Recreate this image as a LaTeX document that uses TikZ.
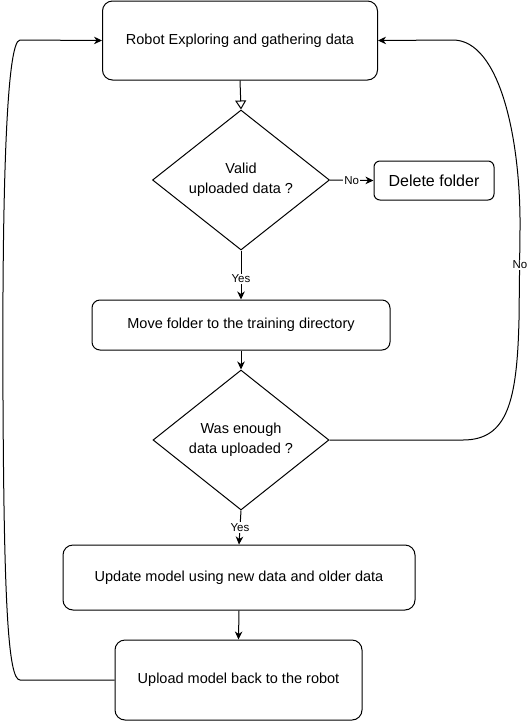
\documentclass[tikz,border=0pt]{standalone}
\usepackage{fontspec}
\setmainfont{Liberation Sans}
\usetikzlibrary{shapes.geometric,arrows.meta}
\begin{document}
\begin{tikzpicture}[x=1pt,y=-1pt,
  box/.style={draw,rounded corners=10pt,line width=1pt,align=center,inner sep=0pt,font=\fontsize{14.5}{17}\selectfont},
  dec/.style={draw,diamond,line width=1pt,align=center,inner sep=0pt,font=\fontsize{14.5}{20}\selectfont},
  arr/.style={line width=1pt,-{Stealth[length=8pt,width=7.5pt,inset=2.5pt]}},
  openarr/.style={line width=1pt,-{Triangle[open,length=9pt,width=11pt]}},
  lbl/.style={fill=white,inner sep=1pt,font=\fontsize{11.5}{13}\selectfont}
]
\useasboundingbox (0,0) rectangle (528,721);

\node[box,minimum width=275pt,minimum height=79pt] (b1) at (240,40.5) {Robot Exploring and gathering data};
\node[dec,minimum width=177pt,minimum height=140pt] (d1) at (241,180) {Valid\\uploaded data ?};
\node[box,rounded corners=6pt,minimum width=120pt,minimum height=39pt,font=\fontsize{16}{19}\selectfont] (del) at (434,180.5) {Delete folder};
\node[box,rounded corners=8pt,minimum width=298pt,minimum height=50pt] (b2) at (241,325) {Move folder to the training directory};
\node[dec,minimum width=176pt,minimum height=140pt] (d2) at (241,440) {Was enough\\data uploaded ?};
\node[box,minimum width=352pt,minimum height=65pt] (b3) at (239,577.5) {Update model using new data and older data};
\node[box,minimum width=247pt,minimum height=80pt] (b4) at (238.5,680) {Upload model back to the robot};

\coordinate (l1) at (20,680);
\coordinate (l2) at (3,400);
\coordinate (l3) at (20,40);
\coordinate (r1) at (463,440);
\coordinate (r2) at (519,320);
\coordinate (r3) at (520,230);
\coordinate (r4) at (453,40);

\draw[openarr] (b1.south) -- (d1.north);
\draw[arr] (d1.east) -- node[lbl]{No} (del.west);
\draw[arr] (d1.south) -- node[lbl,pos=0.58]{Yes} (b2.north);
\draw[arr] (b2.south) -- (d2.north);
\draw[arr] (d2.south) -- node[lbl,pos=0.5]{Yes} (b3.north);
\draw[arr] (b3.south) -- (b4.north);

\draw[arr] (b4.west) -- (l1) .. controls (8,680) and (4,600) .. (l2) .. controls (2,200) and (6,40) .. (l3) -- (b1.west);
\draw[arr] (d2.east) -- (r1) .. controls (508,440) and (517,400) .. (r2) -- (r3) .. controls (521,140) and (500,40) .. (r4) -- (b1.east);
\node[lbl] (nolbl) at (520,265) {No};
\end{tikzpicture}
\end{document}
